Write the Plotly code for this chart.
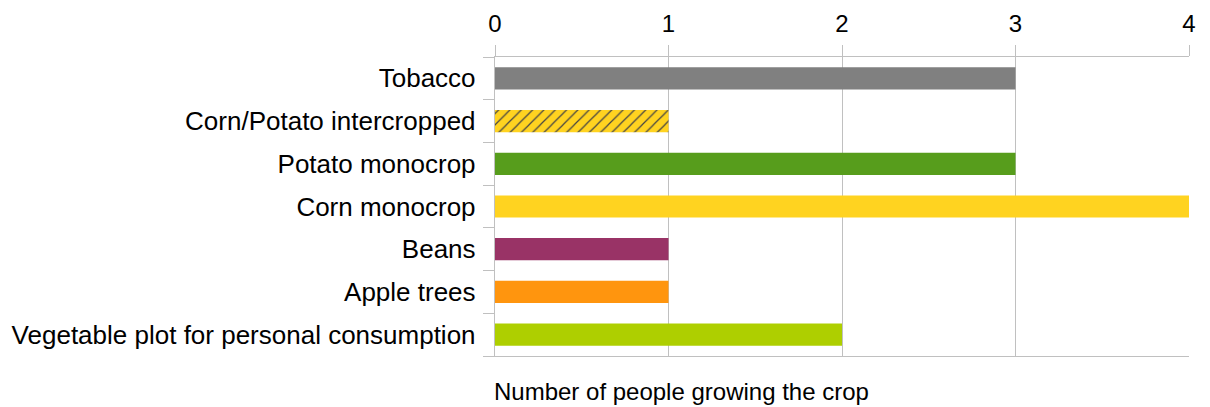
import plotly.graph_objects as go

categories = [
    "Tobacco",
    "Corn/Potato intercropped",
    "Potato monocrop",
    "Corn monocrop",
    "Beans",
    "Apple trees",
    "Vegetable plot for personal consumption",
]
counts = [3, 1, 3, 4, 1, 1, 2]
colors = ["#808080", "#FFD320", "#579D1C", "#FFD320", "#993366", "#FF950E", "#AECF00"]
patterns = ["", "/", "", "", "", "", ""]
x_ticks = [0, 1, 2, 3, 4]

fig = go.Figure(
    go.Bar(
        x=counts,
        y=categories,
        orientation="h",
        marker=dict(
            color=colors,
            line=dict(width=0),
            pattern=dict(
                shape=patterns,
                fgcolor="#000000",
                fgopacity=1,
                size=8,
                solidity=0.15,
                fillmode="overlay",
            ),
        ),
        width=0.52,
    )
)

fig.update_layout(
    width=1210,
    height=407,
    margin=dict(l=495, r=21, t=57, b=51),
    paper_bgcolor="white",
    plot_bgcolor="white",
    font=dict(family="Liberation Sans, Arial, sans-serif", size=26, color="#000000"),
    showlegend=False,
    xaxis=dict(
        side="top",
        range=[0, 4],
        tickvals=x_ticks,
        showgrid=True,
        gridcolor="#C0C0C0",
        gridwidth=1,
        showline=True,
        linecolor="#C0C0C0",
        linewidth=1,
        mirror=True,
        ticks="outside",
        ticklen=11,
        tickcolor="#C0C0C0",
        zeroline=False,
        tickfont=dict(size=24),
        ticklabelstandoff=3,
        automargin=False,
    ),
    yaxis=dict(
        categoryorder="array",
        categoryarray=categories[::-1],
        showline=True,
        linecolor="#C0C0C0",
        linewidth=1,
        ticks="outside",
        tickson="boundaries",
        ticklen=11,
        tickcolor="#C0C0C0",
        showgrid=False,
        tickfont=dict(size=26),
        ticksuffix=" ",
        ticklabelstandoff=6,
        automargin=False,
    ),
    annotations=[
        dict(
            text="Number of people growing the crop",
            xref="paper",
            yref="paper",
            x=-0.005,
            y=-0.118,
            xanchor="left",
            yanchor="middle",
            showarrow=False,
            font=dict(size=24),
        )
    ],
)

fig.write_html("out.html")
